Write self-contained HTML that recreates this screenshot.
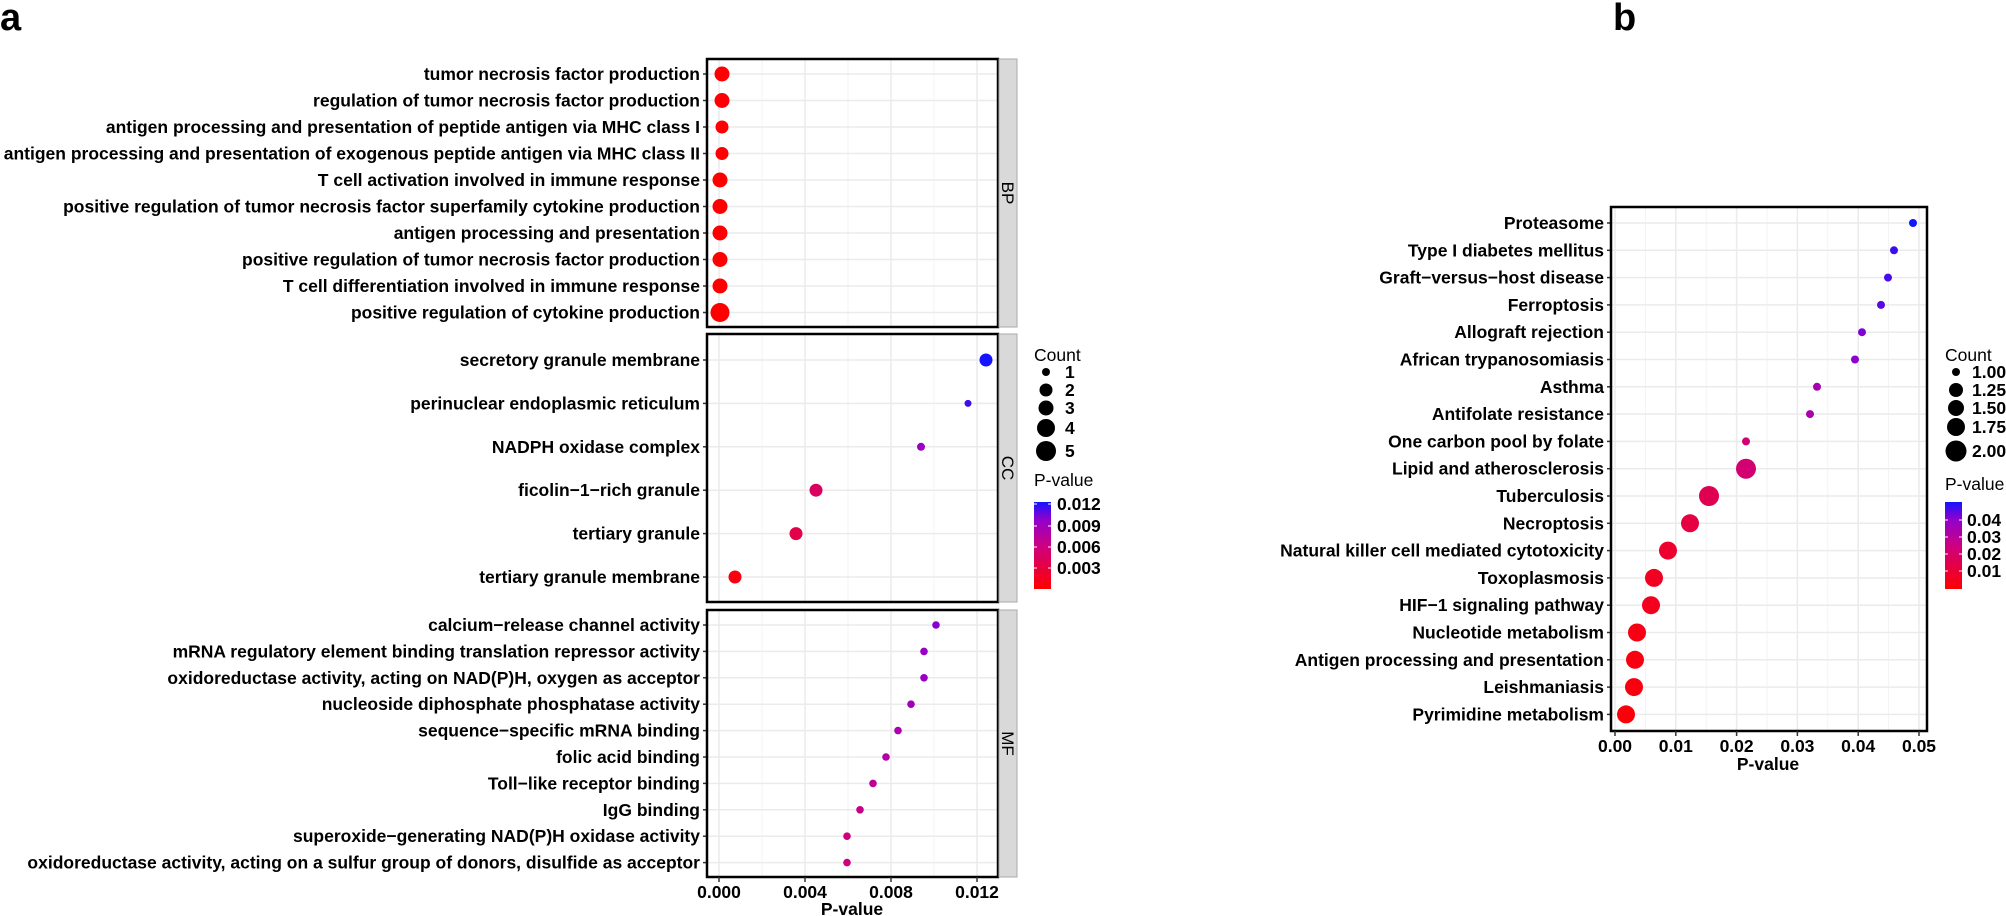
<!DOCTYPE html>
<html><head><meta charset="utf-8"><style>
html,body{margin:0;padding:0;background:#fff}
svg{display:block}
text{font-family:"Liberation Sans",Arial,sans-serif}
</style></head><body>
<svg id="s" width="2006" height="916" xmlns="http://www.w3.org/2000/svg"></svg>
<script>
const S=document.getElementById('s');let h='';
function col(t){t=Math.max(0,Math.min(1,t));
 const st=[[0,[255,0,0]],[0.5,[205,0,130]],[0.8,[145,0,205]],[1,[20,20,255]]];
 let i=0;while(i<st.length-2&&t>st[i+1][0])i++;
 const a=st[i],b=st[i+1],u=(t-a[0])/(b[0]-a[0]);
 return 'rgb('+a[1].map((v,k)=>Math.round(v+(b[1][k]-v)*u)).join(',')+')';}
function txt(x,y,s,sz,anc,w,extra){h+=`<text x="${x}" y="${y}" font-size="${sz}" font-weight="${w||'bold'}" text-anchor="${anc||'start'}" ${extra||''}>${s}</text>`;}
const ax0=719,axk=21500,aL=707,aR=998;
function panelA(top,bot,rows,lab){
 h+=`<rect x="${aL}" y="${top}" width="${aR-aL}" height="${bot-top}" fill="#fff"/>`;
 for(let i=0;i<=6;i++){const x=ax0+i*43;if(x<aR)h+=`<line x1="${x}" y1="${top}" x2="${x}" y2="${bot}" stroke="${i%2?'#f3f3f3':'#ebebeb'}" stroke-width="${i%2?1:1.5}"/>`;}
 rows.forEach(r=>{h+=`<line x1="${aL}" y1="${r[1]}" x2="${aR}" y2="${r[1]}" stroke="#ebebeb" stroke-width="1.5"/>`;});
 rows.forEach(r=>{h+=`<circle cx="${r[2]}" cy="${r[1]}" r="${r[3]}" fill="${col((r[2]-ax0)/axk/0.0124)}"/>`;
  h+=`<line x1="${aL-4}" y1="${r[1]}" x2="${aL}" y2="${r[1]}" stroke="#333" stroke-width="1.5"/>`;
  txt(aL-7,r[1]+6,r[0],17.5,'end');});
 h+=`<rect x="${aL}" y="${top}" width="${aR-aL}" height="${bot-top}" fill="none" stroke="#000" stroke-width="2.5"/>`;
 h+=`<rect x="${aR+1}" y="${top}" width="18" height="${bot-top}" fill="#d9d9d9" stroke="#aaa" stroke-width="1"/>`;
 const cy=(top+bot)/2;h+=`<text x="${aR+4}" y="${cy}" font-size="17" transform="rotate(90 ${aR+4} ${cy})" text-anchor="middle">${lab}</text>`;
}
const bp=["tumor necrosis factor production","regulation of tumor necrosis factor production","antigen processing and presentation of peptide antigen via MHC class I","antigen processing and presentation of exogenous peptide antigen via MHC class II","T cell activation involved in immune response","positive regulation of tumor necrosis factor superfamily cytokine production","antigen processing and presentation","positive regulation of tumor necrosis factor production","T cell differentiation involved in immune response","positive regulation of cytokine production"];
const bpx=[722,722,722,722,720,720,720,720,720,720],bpr=[7.5,7.5,6.5,6.5,7.5,7.5,7.5,7.5,7.5,9.5];
panelA(59,327,bp.map((s,i)=>[s,74+i*26.5,bpx[i],bpr[i]]),'BP');
const cc=[["secretory granule membrane",986,6.5],["perinuclear endoplasmic reticulum",968,3.5],["NADPH oxidase complex",921,4],["ficolin−1−rich granule",816,6.5],["tertiary granule",796,6.5],["tertiary granule membrane",735,6.5]];
panelA(334,602,cc.map((r,i)=>[r[0],360+i*43.4,r[1],r[2]]),'CC');
const mf=[["calcium−release channel activity",936],["mRNA regulatory element binding translation repressor activity",924],["oxidoreductase activity, acting on NAD(P)H, oxygen as acceptor",924],["nucleoside diphosphate phosphatase activity",911],["sequence−specific mRNA binding",898],["folic acid binding",886],["Toll−like receptor binding",873],["IgG binding",860],["superoxide−generating NAD(P)H oxidase activity",847],["oxidoreductase activity, acting on a sulfur group of donors, disulfide as acceptor",847]];
panelA(610,877,mf.map((r,i)=>[r[0],625+i*26.4,r[1],3.8]),'MF');
["0.000","0.004","0.008","0.012"].forEach((s,i)=>{const x=ax0+i*86;h+=`<line x1="${x}" y1="877" x2="${x}" y2="882" stroke="#333" stroke-width="1.5"/>`;txt(x,898,s,17.5,'middle');});
txt(852,915,'P-value',17.5,'middle');
txt(0,30,'a',38,'start');
txt(1034,361,'Count',17.5,'start','normal');
[[372,4,'1'],[390,6.5,'2'],[408,7.5,'3'],[428,9,'4'],[451,10,'5']].forEach(r=>{h+=`<circle cx="1046" cy="${r[0]}" r="${r[1]}" fill="#000"/>`;txt(1065,r[0]+6,r[2],17.5);});
txt(1034,486,'P-value',17.5,'start','normal');
function cbar(x,y0,y1,id){let s='';for(let k=0;k<=10;k++)s+=`<stop offset="${k/10}" stop-color="${col(k/10)}"/>`;h+=`<defs><linearGradient id="${id}" x1="0" y1="1" x2="0" y2="0">${s}</linearGradient></defs><rect x="${x}" y="${y0}" width="17" height="${y1-y0}" fill="url(#${id})"/>`;}
cbar(1034,502,589,'ga');
[[504,'0.012'],[526,'0.009'],[547,'0.006'],[568,'0.003']].forEach(r=>{h+=`<line x1="1034" y1="${r[0]}" x2="1037" y2="${r[0]}" stroke="#fff"/><line x1="1048" y1="${r[0]}" x2="1051" y2="${r[0]}" stroke="#fff"/>`;txt(1057,r[0]+6,r[1],17.5);});
const bx0=1615,bk=6080,bL=1611,bR=1927,bT=207,bB=731;
h+=`<rect x="${bL}" y="${bT}" width="${bR-bL}" height="${bB-bT}" fill="#fff"/>`;
for(let i=0;i<=10;i++){const x=bx0+i*30.4;h+=`<line x1="${x}" y1="${bT}" x2="${x}" y2="${bB}" stroke="${i%2?'#f3f3f3':'#ebebeb'}" stroke-width="${i%2?1:1.5}"/>`;}
const kb=[["Proteasome",1913,4],["Type I diabetes mellitus",1894,4],["Graft−versus−host disease",1888,4],["Ferroptosis",1881,4],["Allograft rejection",1862,4],["African trypanosomiasis",1855,4],["Asthma",1817,4],["Antifolate resistance",1810,4],["One carbon pool by folate",1746,4],["Lipid and atherosclerosis",1746,10],["Tuberculosis",1709,10],["Necroptosis",1690,9],["Natural killer cell mediated cytotoxicity",1668,9],["Toxoplasmosis",1654,9],["HIF−1 signaling pathway",1651,9],["Nucleotide metabolism",1637,9],["Antigen processing and presentation",1635,9],["Leishmaniasis",1634,9],["Pyrimidine metabolism",1626,9]];
kb.forEach((r,i)=>{const y=223+i*27.3;h+=`<line x1="${bL}" y1="${y}" x2="${bR}" y2="${y}" stroke="#ebebeb" stroke-width="1.5"/>`;});
kb.forEach((r,i)=>{const y=223+i*27.3;h+=`<circle cx="${r[1]}" cy="${y}" r="${r[2]}" fill="${col((r[1]-bx0)/bk/0.049)}"/><line x1="${bL-4}" y1="${y}" x2="${bL}" y2="${y}" stroke="#333" stroke-width="1.5"/>`;txt(bL-7,y+6,r[0],17.5,'end');});
h+=`<rect x="${bL}" y="${bT}" width="${bR-bL}" height="${bB-bT}" fill="none" stroke="#000" stroke-width="2.5"/>`;
["0.00","0.01","0.02","0.03","0.04","0.05"].forEach((s,i)=>{const x=bx0+i*60.8;h+=`<line x1="${x}" y1="${bB}" x2="${x}" y2="${bB+5}" stroke="#333" stroke-width="1.5"/>`;txt(x,752,s,17.5,'middle');});
txt(1768,770,'P-value',17.5,'middle');
txt(1613,30,'b',38,'start');
txt(1945,361,'Count',17.5,'start','normal');
[[372,4,'1.00'],[390,7,'1.25'],[408,8,'1.50'],[427,9,'1.75'],[451,10.5,'2.00']].forEach(r=>{h+=`<circle cx="1956" cy="${r[0]}" r="${r[1]}" fill="#000"/>`;txt(1972,r[0]+6,r[2],17.5);});
txt(1945,490,'P-value',17.5,'start','normal');
cbar(1945,502,589,'gb');
[[520,'0.04'],[537,'0.03'],[554,'0.02'],[571,'0.01']].forEach(r=>{h+=`<line x1="1945" y1="${r[0]}" x2="1948" y2="${r[0]}" stroke="#fff"/><line x1="1959" y1="${r[0]}" x2="1962" y2="${r[0]}" stroke="#fff"/>`;txt(1967,r[0]+6,r[1],17.5);});
S.innerHTML=h;
</script>
</body></html>
